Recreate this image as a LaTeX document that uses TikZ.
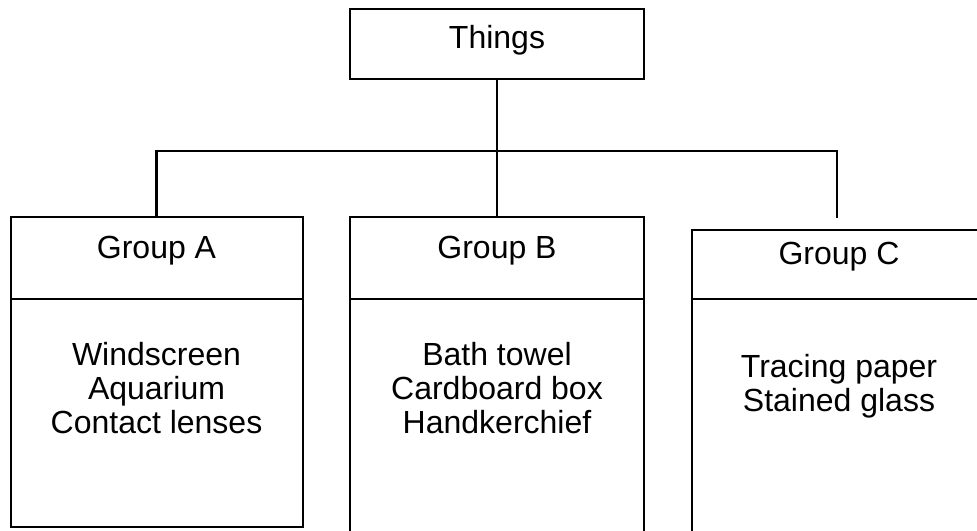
\documentclass[tikz,border=0pt]{standalone}
\usepackage{fontspec}
\setmainfont{Liberation Sans}
\usetikzlibrary{positioning}

\begin{document}
\begin{tikzpicture}[x=0.5pt,y=-0.5pt,
	box/.style={draw,line width=1pt,minimum width=147pt,inner sep=0pt,outer sep=0pt,font=\fontsize{16}{17}\selectfont},
	head/.style={box,text height=8pt,text depth=8pt},
	body/.style={box,anchor=north},
	items/.style={align=center,inner sep=0pt,font=\fontsize{16}{17}\selectfont},
	link/.style={line width=1.1pt}]
	
	\useasboundingbox (0,0) rectangle (977,530);
	
	\node[box,minimum height=35pt,text height=10pt,text depth=6pt] (things) at (497,44) {Things};
	
	\node[head,minimum width=146pt,minimum height=41pt] (headA) at (156.5,258) {Group A};
	\node[head,minimum height=41pt] (headB) at (497,258) {Group B};
	\node[head,minimum height=34.5pt] (headC) at (839,264.5) {Group C};
	
	\node[body,minimum width=146pt,minimum height=114pt] (bodyA) at (headA.south) {};
	\node[body,minimum height=123pt] (bodyB) at (headB.south) {};
	\node[body,minimum height=123pt] (bodyC) at (headC.south) {};
	
	\node[items,below=21.3pt of headA] (itemsA) {Windscreen\\Aquarium\\Contact lenses};
	\node[items,below=21.3pt of headB] (itemsB) {Bath towel\\Cardboard box\\Handkerchief};
	\node[items,below=27.5pt of headC] (itemsC) {Tracing paper\\Stained glass};
	
	\coordinate (joint) at (497,151);
	\coordinate (endC) at (837,218);
	
	\draw[link] (things) -- (joint);
	\draw[link] (headA.north) |- (joint) -| (endC);
	\draw[link] (joint) -- (headB.north);
	
\end{tikzpicture}
\end{document}
